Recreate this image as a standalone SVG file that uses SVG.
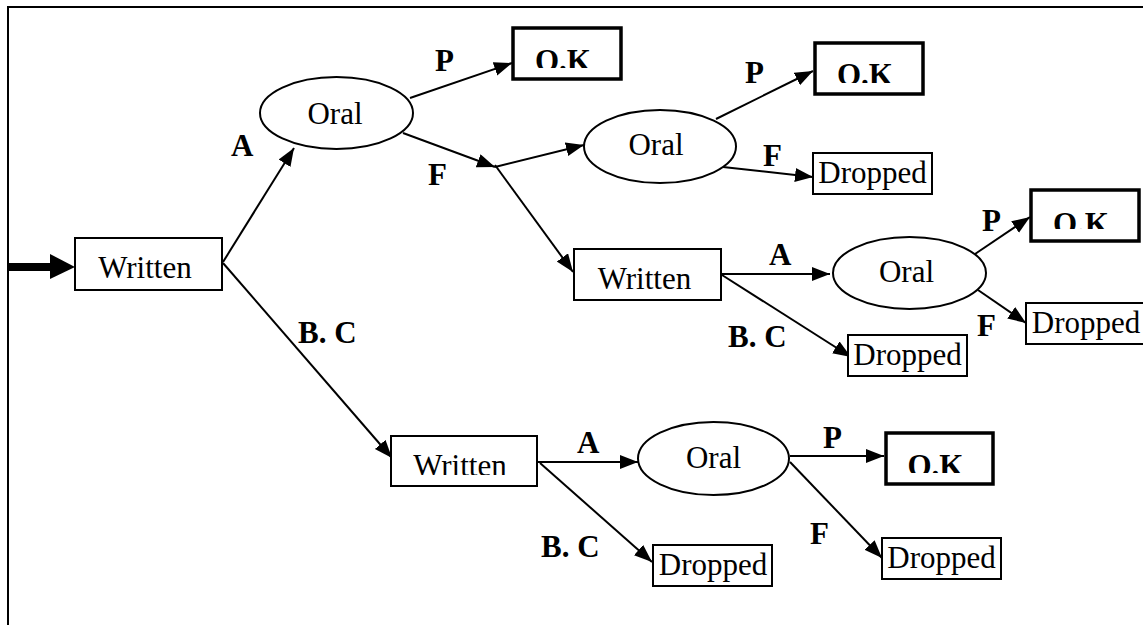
<svg xmlns="http://www.w3.org/2000/svg" width="1143" height="625" viewBox="0 0 1143 625">
<style>
.box{fill:#fff;stroke:#000;stroke-width:2}
.ok{fill:#fff;stroke:#000;stroke-width:3.5}
.ell{fill:#fff;stroke:#000;stroke-width:2}
.t{font-family:"Liberation Serif","Times New Roman",serif;font-size:31px;fill:#000;text-anchor:middle}
.b{font-family:"Liberation Serif","Times New Roman",serif;font-size:31px;font-weight:bold;fill:#000}
.okt{font-family:"Liberation Serif","Times New Roman",serif;font-size:31px;font-weight:bold;fill:#000;text-anchor:middle}
.e{stroke:#000;stroke-width:2;fill:none;marker-end:url(#ah)}
</style>
<defs>
<marker id="ah" markerUnits="userSpaceOnUse" markerWidth="19" markerHeight="15" refX="18" refY="7" orient="auto">
<path d="M0,0 L18,7 L0,14 z" fill="#000"/>
</marker>
<clipPath id="c1"><rect x="513" y="28" width="108" height="40"/></clipPath>
<clipPath id="c2"><rect x="815" y="43" width="108" height="40"/></clipPath>
<clipPath id="c3"><rect x="1031" y="190" width="108" height="39"/></clipPath>
<clipPath id="c4"><rect x="886" y="433" width="107" height="40"/></clipPath>
<clipPath id="cw3"><rect x="391" y="436" width="146" height="39"/></clipPath>
</defs>
<rect width="1143" height="625" fill="#fff"/>
<g id="frame">
<path d="M8,625 L8,7 L1143,7" fill="none" stroke="#000" stroke-width="2"/>
</g>
<g id="connectors">
<line x1="8" y1="267" x2="52" y2="267" stroke="#000" stroke-width="8"/>
<path d="M50,254 L75,267 L50,279 z" fill="#000"/>
<line class="e" x1="223" y1="262" x2="294" y2="148"/>
<line class="e" x1="223" y1="263" x2="392" y2="458"/>
<line class="e" x1="410" y1="98" x2="512" y2="63"/>
<line class="e" x1="403" y1="133" x2="495" y2="167"/>
<line class="e" x1="495" y1="167" x2="584" y2="145"/>
<line class="e" x1="495" y1="165" x2="573" y2="272"/>
<line class="e" x1="716" y1="119" x2="813" y2="71"/>
<line class="e" x1="723" y1="167" x2="813" y2="177"/>
<line class="e" x1="722" y1="274" x2="830" y2="274"/>
<line class="e" x1="722" y1="275" x2="851" y2="357"/>
<line class="e" x1="975" y1="254" x2="1030" y2="217"/>
<line class="e" x1="978" y1="290" x2="1026" y2="323"/>
<line class="e" x1="538" y1="462" x2="638" y2="462"/>
<line class="e" x1="540" y1="463" x2="652" y2="562"/>
<line class="e" x1="790" y1="456" x2="884" y2="456"/>
<line class="e" x1="790" y1="462" x2="882" y2="558"/>
<text class="b" x="231" y="156">A</text>
<text class="b" x="298" y="343">B. C</text>
<text class="b" x="435" y="71">P</text>
<text class="b" x="428" y="185">F</text>
<text class="b" x="745" y="83">P</text>
<text class="b" x="763" y="166">F</text>
<text class="b" x="769" y="265">A</text>
<text class="b" x="728" y="347">B. C</text>
<text class="b" x="982" y="231">P</text>
<text class="b" x="977" y="336">F</text>
<text class="b" x="577" y="453">A</text>
<text class="b" x="541" y="557">B. C</text>
<text class="b" x="823" y="448">P</text>
<text class="b" x="810" y="544">F</text>
</g>
<g id="written1"><rect class="box" x="75" y="238" width="147" height="52"/><text class="t" x="145" y="278">Written</text></g>
<g id="oral1"><ellipse class="ell" cx="336.5" cy="113" rx="76.5" ry="36"/><text class="t" x="335" y="124">Oral</text></g>
<g id="ok1"><rect class="ok" x="513" y="28" width="108" height="51"/><text class="okt" x="563" y="71" clip-path="url(#c1)">O.K</text></g>
<g id="oral2"><ellipse class="ell" cx="660" cy="146.5" rx="76" ry="36.5"/><text class="t" x="656" y="155">Oral</text></g>
<g id="ok2"><rect class="ok" x="815" y="43" width="108" height="51"/><text class="okt" x="865" y="85" clip-path="url(#c2)">O.K</text></g>
<g id="dropped1"><rect class="box" x="813" y="153" width="119" height="41"/><text class="t" x="872.5" y="183">Dropped</text></g>
<g id="written2"><rect class="box" x="574" y="249" width="147" height="51"/><text class="t" x="644.5" y="289">Written</text></g>
<g id="oral3"><ellipse class="ell" cx="909.5" cy="273" rx="76.5" ry="36"/><text class="t" x="906.5" y="282">Oral</text></g>
<g id="ok3"><rect class="ok" x="1031" y="190" width="108" height="51"/><text class="okt" x="1081" y="234" clip-path="url(#c3)">O.K</text></g>
<g id="dropped2"><rect class="box" x="848" y="335" width="119" height="41"/><text class="t" x="907.5" y="365">Dropped</text></g>
<g id="dropped3"><rect class="box" x="1026" y="303" width="119" height="41"/><text class="t" x="1086" y="333">Dropped</text></g>
<g id="written3"><rect class="box" x="391" y="436" width="146" height="50"/><text class="t" x="460" y="476" clip-path="url(#cw3)">Written</text></g>
<g id="oral4"><ellipse class="ell" cx="713.5" cy="458.5" rx="75.5" ry="36.5"/><text class="t" x="713.5" y="468">Oral</text></g>
<g id="ok4"><rect class="ok" x="886" y="433" width="107" height="51"/><text class="okt" x="935.5" y="476" clip-path="url(#c4)">O.K</text></g>
<g id="dropped4"><rect class="box" x="653" y="545" width="119" height="41"/><text class="t" x="713" y="575">Dropped</text></g>
<g id="dropped5"><rect class="box" x="882" y="538" width="119" height="41"/><text class="t" x="941.5" y="568">Dropped</text></g>
</svg>
